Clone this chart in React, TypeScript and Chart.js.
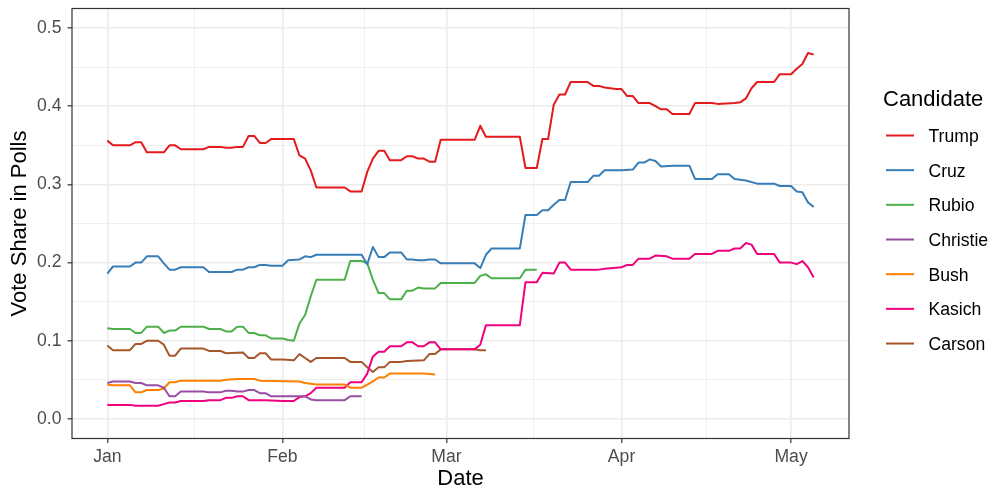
import React, { useEffect, useRef } from "react";
import { Chart, registerables } from "chart.js";
Chart.register(...registerables);

// x = days since 2016-01-01, y = vote share
const trump: [number, number][] = [[0,.356],[1,.350],[4,.350],[5,.354],[6,.354],[7,.341],[10,.341],[11,.350],[12,.350],[13,.345],[17,.345],[18,.348],[20,.348],[21,.347],[22,.347],[23,.348],[24,.348],[25,.362],[26,.362],[27,.353],[28,.353],[29,.358],[33,.358],[34,.337],[35,.333],[36,.318],[37,.296],[42,.296],[43,.291],[45,.291],[46,.316],[47,.333],[48,.343],[49,.343],[50,.331],[52,.331],[53,.336],[54,.336],[55,.333],[56,.333],[57,.329],[58,.329],[59,.357],[65,.357],[66,.375],[67,.361],[73,.361],[74,.321],[76,.321],[77,.358],[78,.358],[79,.402],[80,.415],[81,.415],[82,.431],[85,.431],[86,.426],[87,.426],[88,.424],[90,.422],[91,.422],[92,.413],[93,.413],[94,.404],[96,.404],[97,.400],[98,.396],[99,.396],[100,.390],[103,.390],[104,.404],[107,.404],[108,.403],[111,.404],[112,.405],[113,.410],[114,.423],[115,.431],[118,.431],[119,.441],[121,.441],[122,.448],[123,.454],[124,.468],[125,.466]];
const cruz: [number, number][] = [[0,.186],[1,.195],[4,.195],[5,.200],[6,.200],[7,.208],[9,.208],[10,.199],[11,.191],[12,.191],[13,.194],[17,.194],[18,.188],[22,.188],[23,.191],[24,.191],[25,.194],[26,.194],[27,.197],[28,.197],[29,.196],[31,.196],[32,.203],[34,.204],[35,.208],[36,.207],[37,.210],[45,.210],[46,.198],[47,.220],[48,.207],[49,.207],[50,.213],[52,.213],[53,.204],[54,.204],[55,.203],[56,.203],[57,.204],[58,.204],[59,.199],[65,.199],[66,.193],[67,.210],[68,.218],[73,.218],[74,.261],[76,.261],[77,.267],[78,.267],[79,.274],[80,.280],[81,.280],[82,.303],[85,.303],[86,.311],[87,.311],[88,.318],[91,.318],[93,.319],[94,.328],[95,.328],[96,.332],[97,.330],[98,.323],[100,.324],[103,.324],[104,.307],[107,.307],[108,.313],[110,.313],[111,.307],[113,.305],[115,.301],[118,.301],[119,.298],[121,.298],[122,.291],[123,.290],[124,.277],[125,.271]];
const rubio: [number, number][] = [[0,.116],[1,.115],[4,.115],[5,.110],[6,.110],[7,.118],[9,.118],[10,.110],[11,.113],[12,.113],[13,.118],[17,.118],[18,.115],[20,.115],[21,.112],[22,.112],[23,.118],[24,.118],[25,.110],[26,.110],[27,.107],[28,.107],[29,.103],[31,.103],[32,.101],[33,.100],[34,.122],[35,.133],[36,.157],[37,.178],[42,.178],[43,.202],[45,.202],[46,.199],[47,.178],[48,.161],[49,.161],[50,.153],[52,.153],[53,.164],[54,.164],[55,.168],[56,.167],[58,.167],[59,.174],[65,.174],[66,.183],[67,.185],[68,.180],[73,.180],[74,.191],[76,.191]];
const christie: [number, number][] = [[0,.046],[1,.048],[4,.048],[5,.046],[6,.046],[7,.043],[9,.043],[10,.040],[11,.029],[12,.029],[13,.035],[17,.035],[18,.034],[20,.034],[21,.036],[22,.036],[23,.035],[24,.035],[25,.037],[26,.037],[27,.033],[28,.033],[29,.029],[35,.029],[36,.025],[37,.024],[42,.024],[43,.029],[45,.029]];
const bush: [number, number][] = [[0,.044],[1,.043],[4,.043],[5,.034],[6,.034],[7,.037],[9,.037],[10,.039],[11,.047],[12,.047],[13,.049],[20,.049],[21,.050],[23,.051],[26,.051],[27,.049],[34,.048],[35,.046],[37,.044],[42,.044],[43,.040],[45,.040],[46,.044],[47,.048],[48,.053],[49,.053],[50,.058],[56,.058],[58,.057]];
const kasich: [number, number][] = [[0,.018],[4,.018],[5,.017],[9,.017],[10,.019],[11,.021],[12,.021],[13,.023],[17,.023],[18,.024],[20,.024],[21,.027],[22,.027],[23,.029],[24,.029],[25,.024],[28,.024],[31,.023],[33,.023],[34,.028],[35,.029],[36,.033],[37,.040],[42,.040],[43,.047],[45,.047],[46,.058],[47,.080],[48,.086],[49,.086],[50,.093],[52,.093],[53,.098],[54,.098],[55,.093],[56,.093],[57,.098],[58,.098],[59,.089],[65,.089],[66,.095],[67,.120],[73,.120],[74,.175],[76,.175],[77,.187],[79,.186],[80,.200],[81,.200],[82,.191],[87,.191],[88,.192],[91,.194],[92,.197],[93,.197],[94,.205],[96,.205],[97,.209],[99,.208],[100,.205],[103,.205],[104,.211],[107,.211],[108,.215],[110,.215],[111,.218],[112,.218],[113,.225],[114,.223],[115,.211],[118,.211],[119,.200],[121,.200],[122,.198],[123,.202],[124,.194],[125,.181]];
const carson: [number, number][] = [[0,.094],[1,.088],[4,.088],[5,.096],[6,.096],[7,.100],[9,.100],[10,.095],[11,.081],[12,.081],[13,.090],[17,.090],[18,.087],[20,.087],[21,.084],[24,.085],[25,.078],[26,.078],[27,.084],[28,.084],[29,.076],[31,.076],[33,.075],[34,.083],[35,.078],[36,.073],[37,.078],[42,.078],[43,.073],[45,.073],[46,.066],[47,.060],[48,.066],[49,.066],[50,.073],[52,.073],[53,.074],[56,.075],[57,.083],[58,.083],[59,.089],[65,.089],[66,.088],[67,.088]];

const candidates = ["Trump", "Cruz", "Rubio", "Christie", "Bush", "Kasich", "Carson"];
const seriesList = [trump, cruz, rubio, christie, bush, kasich, carson];
const colors = ["#E41A1C", "#377EB8", "#4DAF4A", "#984EA3", "#FF7F00", "#F0027F", "#A65628"];

const monthTicks = [0, 31, 60, 91, 121];
const monthLabels = ["Jan", "Feb", "Mar", "Apr", "May"];
const minorDayTicks = [15.5, 45.5, 75.5, 106];
const shareTicks = [0, 0.1, 0.2, 0.3, 0.4, 0.5];
const minorShareTicks = [0.05, 0.15, 0.25, 0.35, 0.45];

const FONT = '"Liberation Sans", Arial, Helvetica, sans-serif';

const isMajorX = (v: number) => monthTicks.indexOf(v) >= 0;
const isMajorY = (v: number) => shareTicks.some((t) => Math.abs(t - v) < 1e-9);

const ggLegend = {
  id: "ggLegend",
  afterDraw(chart: any) {
    const { ctx, chartArea } = chart;
    const mid = (chartArea.top + chartArea.bottom) / 2;
    const x0 = chartArea.right + 34;
    ctx.save();
    ctx.textAlign = "left";
    ctx.textBaseline = "alphabetic";
    ctx.fillStyle = "#000000";
    ctx.font = `22px ${FONT}`;
    ctx.fillText("Candidate", x0, mid - 117.5);
    ctx.font = `17.6px ${FONT}`;
    candidates.forEach((name, i) => {
      const y = mid - 88 + i * 34.67;
      ctx.strokeStyle = colors[i];
      ctx.lineWidth = 2;
      ctx.beginPath();
      ctx.moveTo(x0 + 3, y);
      ctx.lineTo(x0 + 31, y);
      ctx.stroke();
      ctx.fillStyle = "#000000";
      ctx.fillText(name, x0 + 45.5, y + 6.5);
    });
    ctx.restore();
  },
};

const panelBorder = {
  id: "panelBorder",
  afterDraw(chart: any) {
    const { ctx, chartArea } = chart;
    ctx.save();
    ctx.strokeStyle = "#333333";
    ctx.lineWidth = 1.2;
    ctx.strokeRect(chartArea.left, chartArea.top, chartArea.right - chartArea.left, chartArea.bottom - chartArea.top);
    ctx.restore();
  },
};

export default function App() {
  const ref = useRef<HTMLCanvasElement | null>(null);
  useEffect(() => {
    if (!ref.current) return;
    const chart = new Chart(ref.current, {
      type: "line",
      data: {
        datasets: candidates.map((name, i) => ({
          label: name,
          data: seriesList[i].map(([d, v]) => ({ x: d, y: v })),
          borderColor: colors[i],
          backgroundColor: colors[i],
          borderWidth: 2,
          pointRadius: 0,
          tension: 0,
          fill: false,
          borderJoinStyle: "round" as const,
        })),
      },
      options: {
        responsive: false,
        animation: false,
        layout: { padding: { left: 0, right: 143, top: 8.5, bottom: 0 } },
        plugins: { legend: { display: false }, tooltip: { enabled: false } },
        scales: {
          x: {
            type: "linear",
            min: -6.25,
            max: 131.25,
            afterBuildTicks: (s: any) => {
              s.ticks = [...monthTicks, ...minorDayTicks].sort((a, b) => a - b).map((v) => ({ value: v }));
            },
            afterFit: (s: any) => {
              s.height = 52.5;
              s.paddingLeft = 0;
              s.paddingRight = 0;
              s.paddingTop = 0;
              s.paddingBottom = 0;
            },
            ticks: {
              autoSkip: false,
              maxRotation: 0,
              minRotation: 0,
              padding: 4,
              color: "#4D4D4D",
              font: { family: FONT, size: 17.6 },
              callback: (v: any) => {
                const i = monthTicks.indexOf(Number(v));
                return i >= 0 ? monthLabels[i] : "";
              },
            },
            grid: {
              color: "#EBEBEB",
              lineWidth: (c: any) => (c.tick && isMajorX(c.tick.value) ? 1.6 : 0.8),
              tickLength: 4.5,
              tickWidth: 1.2,
              tickColor: (c: any) => (c.tick && isMajorX(c.tick.value) ? "#333333" : "rgba(0,0,0,0)"),
            },
            border: { display: false },
            title: {
              display: true,
              text: "Date",
              color: "#000000",
              font: { family: FONT, size: 22, lineHeight: 1 },
              padding: { top: 0, bottom: 1 },
            },
          },
          y: {
            type: "linear",
            min: -0.025,
            max: 0.525,
            afterBuildTicks: (s: any) => {
              s.ticks = [...shareTicks, ...minorShareTicks].sort((a, b) => a - b).map((v) => ({ value: v }));
            },
            afterFit: (s: any) => {
              s.width = 72;
              s.paddingLeft = 0;
              s.paddingRight = 0;
              s.paddingTop = 0;
              s.paddingBottom = 0;
            },
            ticks: {
              autoSkip: false,
              padding: 6,
              color: "#4D4D4D",
              font: { family: FONT, size: 17.6 },
              callback: (v: any) => (isMajorY(Number(v)) ? Number(v).toFixed(1) : ""),
            },
            grid: {
              color: "#EBEBEB",
              lineWidth: (c: any) => (c.tick && isMajorY(c.tick.value) ? 1.6 : 0.8),
              tickLength: 4.5,
              tickWidth: 1.2,
              tickColor: (c: any) => (c.tick && isMajorY(c.tick.value) ? "#333333" : "rgba(0,0,0,0)"),
            },
            border: { display: false },
            title: {
              display: true,
              text: "Vote Share in Polls",
              color: "#000000",
              font: { family: FONT, size: 22, lineHeight: 1 },
              padding: { top: 9.4, bottom: 0 },
            },
          },
        },
      },
      plugins: [panelBorder, ggLegend],
    } as any);
    return () => chart.destroy();
  }, []);
  return (
    <div style={{ position: "absolute", left: 0, top: 0, width: 992, height: 491, background: "#ffffff" }}>
      <canvas ref={ref} width={992} height={491} style={{ display: "block" }} />
    </div>
  );
}
